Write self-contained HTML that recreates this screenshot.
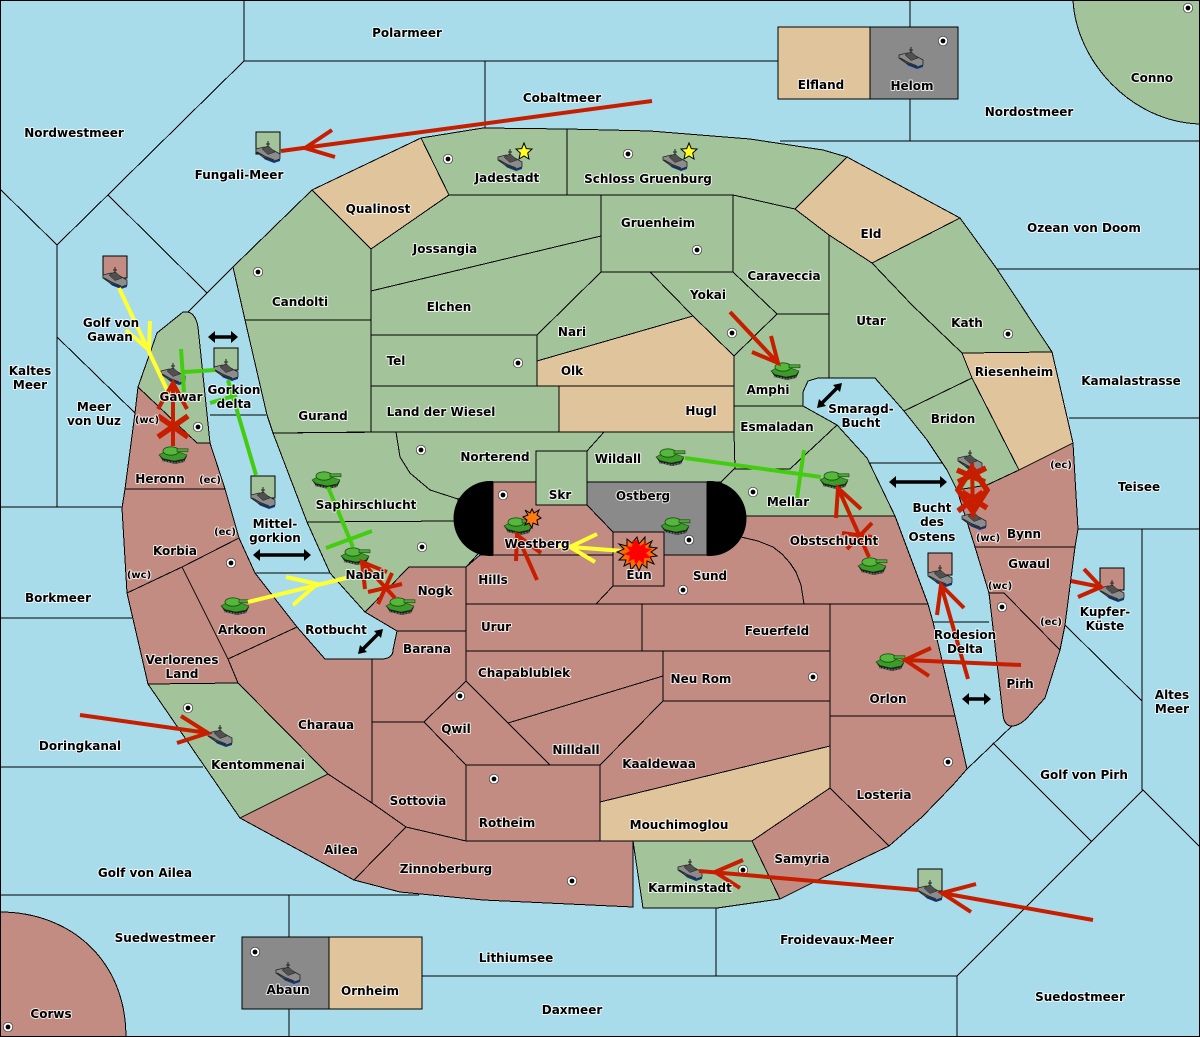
<!DOCTYPE html>
<html><head><meta charset="utf-8"><style>
html,body{margin:0;padding:0;background:#a8dcea}
svg{display:block}
.r polygon,.r path{stroke:#000;stroke-width:1;shape-rendering:crispEdges;stroke-linejoin:miter}
.g{fill:#a3c49a}.n{fill:#e0c49c}.b{fill:#c28c82}.k{fill:#8a8a8a}
.l path{fill:none;stroke:#000;stroke-width:1;shape-rendering:crispEdges}
text{font-family:"DejaVu Sans","Liberation Sans",sans-serif;font-size:12px;font-weight:bold;text-anchor:middle;fill:#000;stroke:#fff;stroke-opacity:.8;stroke-width:2;paint-order:stroke;stroke-linejoin:round}
text.s{font-size:10px}
.o{fill:none;stroke-width:4;stroke-linecap:butt;stroke-linejoin:miter}
.red{stroke:#c81e00}.yel{stroke:#ffff33}.grn{stroke:#44cc11}
.ar{fill:none;stroke:#000;stroke-width:3.4}
</style></head><body>
<svg xmlns="http://www.w3.org/2000/svg" width="1200" height="1037" viewBox="0 0 1200 1037">
<defs>
<g id="t">
<polygon points="0,9 4,15 16,18 25,16 28,10 14,6" fill="#1c1c1c"/>
<polygon points="0,9 8,4.5 18,5.5 28,9 25,13 15,15 4,12.5" fill="#3c9c2a" stroke="#16400e" stroke-width=".6"/>
<path d="M3,14.5 L16,17 L25,15" fill="none" stroke="#666" stroke-width="1.5" stroke-dasharray="2 1"/>
<ellipse cx="12" cy="5" rx="8" ry="4.2" fill="#55b83c" stroke="#1a4d12" stroke-width=".8"/>
<rect x="18" y="2.8" width="11" height="3" fill="#4aa834" stroke="#16400e" stroke-width=".6"/>
</g>
<g id="s">
<path d="M0,10 L9,18.5 L18,22 L24,20 L24,16 Z" fill="#0b3a8c"/>
<polygon points="0,8 8,6 14,7.5 24,13 24,18 18,20 7,16 0,11" fill="#8c8c8c" stroke="#222" stroke-width=".8"/>
<polygon points="6,8 12,4.5 19,11 12,13.5" fill="#505050" stroke="#222" stroke-width=".5"/>
<path d="M12,0 V6 M10,3 H14" stroke="#222" stroke-width="1" fill="none"/>
<path d="M1,11 L9,15.5 L18,19" stroke="#2a2a2a" stroke-width="1.2" fill="none"/>
</g>
<g id="d"><circle r="4.7" fill="#fff" stroke="#333" stroke-width=".7"/><circle r="2.4" fill="#000"/></g>
</defs>
<rect x="0" y="0" width="1200" height="1037" fill="#a8dcea"/>

<g class="l">
<path d="M244,0V61L57,245L0,189M244,61H778M485,61V128M910,0V27M910,99V141M780,141H1200"/>
<path d="M108,195L207,293M188,312L233,267M57,245V507M57,337L135,413M0,507H122M0,618H132M0,767H203"/>
<path d="M210,415H266M255,573H330M0,895H419M289,895V937M289,1009V1037M422,976H957M716,908V976M957,1037V976L1143,790L1200,847"/>
<path d="M993,743L1092,842M967,769L1012,726M997,269H1200M1069,418H1200M1078,529H1200M1142,529V790M1065,625L1142,701"/>
<path d="M868,463H947M933,622H989"/>
</g>

<g class="r">
<path class="g" d="M1073,0 C1076,60 1130,122 1200,124 V0 Z"/>
<path class="b" d="M0,912 C70,912 126,960 126,1037 H0 Z"/>
<polygon class="n" points="778,27 870,27 870,99 778,99"/>
<polygon class="k" points="870,27 958,27 958,99 870,99"/>
<polygon class="k" points="242,937 329,937 329,1009 242,1009"/>
<polygon class="n" points="329,937 422,937 422,1009 329,1009"/>

<polygon class="n" points="312,190 421,138 449,195 371,249"/>
<polygon class="g" points="421,138 483,128 567,129 567,195 449,195"/>
<polygon class="g" points="567,129 650,131 750,139 823,150 847,157 795,209 733,195 567,195"/>
<polygon class="g" points="601,195 733,195 733,272 601,272"/>
<polygon class="g" points="371,249 449,195 601,195 601,236 371,291"/>
<polygon class="g" points="371,291 601,236 601,272 537,335 371,335"/>
<polygon class="g" points="601,272 650,272 693,316 537,361 537,335"/>
<polygon class="n" points="537,361 693,316 734,356 734,386 537,386"/>
<polygon class="n" points="559,386 734,386 734,432 559,432"/>
<polygon class="g" points="371,335 537,335 537,386 371,386"/>
<polygon class="g" points="371,386 559,386 559,432 371,432"/>
<polygon class="g" points="650,272 733,272 777,314 734,356 693,316"/>
<polygon class="g" points="733,195 795,209 829,235 829,314 777,314 733,272"/>
<polygon class="g" points="777,314 829,314 829,378 818,378 808,381 803,392 803,406 734,406 734,356"/>
<polygon class="g" points="734,406 803,406 837,425 790,469 734,469"/>
<polygon class="g" points="829,235 872,263 912,305 962,353 972,378 904,411 875,378 829,378"/>
<polygon class="n" points="795,209 847,157 960,218 872,263 829,235"/>
<polygon class="g" points="872,263 960,218 997,269 1052,352 962,353 912,305"/>
<polygon class="n" points="962,353 1052,352 1073,443 1019,470 972,378"/>
<polygon class="g" points="904,411 972,378 1019,470 987,485 957,490 947,470 927,440"/>
<polygon class="b" points="1073,443 1078,529 1075,547 975,547 957,490 987,485 1019,470"/>
<polygon class="b" points="975,547 1075,547 1065,625 1060,650 1004,593 989,593"/>
<path class="b" d="M989,593H1004L1060,650L1045,698L1027,718Q1018,727 1010,726Q1004,724 1003,715Z"/>

<polygon class="g" points="233,267 312,190 371,249 371,320 245,320"/>
<polygon class="g" points="245,320 371,320 371,432 273,433 267,415"/>
<polygon class="g" points="396,432 604,432 587,451 536,451 536,482 493,482 458,499 430,490 410,473 400,457"/>
<polygon class="g" points="273,433 396,432 400,457 410,473 430,490 458,499 460,521 307,522"/>
<polygon class="g" points="307,522 460,521 478,554 466,567 409,567 365,612 330,573"/>
<polygon class="b" points="409,567 466,567 466,631 397,631 365,612"/>
<path class="b" d="M397,631H466V681L424,722H372V659H383Q393,658 393,650Z"/>
<polygon class="b" points="466,567 480,555 613,555 613,586 596,604 466,604"/>
<polygon class="b" points="466,604 642,604 642,651 466,651"/>
<polygon class="b" points="642,604 830,604 830,651 642,651"/>
<polygon class="b" points="466,651 663,651 663,676 508,723 466,681"/>
<polygon class="b" points="663,651 830,651 830,701 663,701"/>
<polygon class="b" points="508,723 663,676 663,701 600,765 550,765"/>
<polygon class="b" points="663,701 830,701 830,746 600,802 600,765"/>
<polygon class="n" points="600,802 830,746 830,788 752,841 600,841"/>
<polygon class="b" points="830,788 889,846 822,878 780,899 752,841"/>
<polygon class="b" points="830,716 955,716 967,769 953,785 922,817 889,846 830,788"/>
<polygon class="b" points="830,604 928,604 933,622 955,716 830,716"/>
<polygon class="b" points="735,516 895,516 928,604 804,604 801,585 796,572 790,563 782,554 773,547 758,541 741,537"/>
<polygon class="b" points="613,586 664,586 664,555 712,555 741,537 758,541 773,547 782,554 790,563 796,572 801,585 804,604 596,604"/>
<polygon class="g" points="587,451 604,432 734,432 735,469 721,482 587,482"/>
<polygon class="g" points="721,482 734,469 790,469 837,425 867,458 895,516 735,516"/>
<polygon class="k" points="587,482 707,482 707,555 664,555 664,532 613,532 587,505"/>
<polygon class="b" points="493,482 536,482 536,505 587,505 613,532 613,555 493,555"/>
<polygon class="b" points="613,532 664,532 664,586 613,586"/>
<polygon class="g" points="536,451 587,451 587,505 536,505"/>

<path class="g" d="M138,387L157,333L183,312Q195,310 198,327L210,443H197Z"/>
<polygon class="b" points="138,387 197,443 210,443 225,489 125,489 135,413"/>
<polygon class="b" points="125,489 225,489 239,538 182,567 127,593 122,508"/>
<polygon class="b" points="182,567 239,538 255,573 297,627 228,659"/>
<polygon class="b" points="127,593 182,567 228,659 238,683 148,684"/>
<polygon class="b" points="228,659 297,627 325,659 372,659 372,803 328,774 238,683"/>
<polygon class="g" points="148,684 238,683 328,774 240,818"/>
<polygon class="b" points="372,722 424,722 466,765 466,841 406,827 372,803"/>
<polygon class="b" points="424,722 466,681 550,765 466,765"/>
<polygon class="b" points="466,765 600,765 600,841 466,841"/>
<polygon class="b" points="240,818 328,774 372,803 406,827 354,880"/>
<polygon class="b" points="406,827 466,841 633,841 633,907 483,900 400,892 354,880"/>
<polygon class="g" points="633,841 752,841 780,899 717,908 643,908"/>

<polygon class="g" points="256,132 280,132 280,154 256,154"/>
<polygon class="b" points="103,256 127,256 127,278 103,278"/>
<polygon class="g" points="214,348 238,348 238,370 214,370"/>
<polygon class="g" points="251,476 275,476 275,498 251,498"/>
<polygon class="g" points="918,869 942,869 942,891 918,891"/>
<polygon class="b" points="928,553 952,553 952,575 928,575"/>
<polygon class="b" points="1100,568 1124,568 1124,590 1100,590"/>
</g>

<path d="M493,481H490A36,37 0 0 0 490,556H493Z" fill="#000"/>
<path d="M707,481H710A36,37 0 0 1 710,556H707Z" fill="#000"/>

<g fill="#ffff22" stroke="#000" stroke-width="1">
<polygon points="524,143 526.3,148.6 532,149 527.7,153 529,159 524,156 519,159 520.3,153 516,149 521.7,148.6"/>
<polygon points="689,143 691.3,148.6 697,149 692.7,153 694,159 689,156 684,159 685.3,153 681,149 686.7,148.6"/>
</g>

<g>
<use href="#d" x="258" y="272"/><use href="#d" x="198" y="427"/><use href="#d" x="448" y="159"/><use href="#d" x="628" y="154"/><use href="#d" x="697" y="250"/><use href="#d" x="732" y="333"/><use href="#d" x="518" y="363"/><use href="#d" x="421" y="450"/><use href="#d" x="1008" y="334"/><use href="#d" x="753" y="492"/><use href="#d" x="231" y="563"/><use href="#d" x="188" y="708"/><use href="#d" x="422" y="547"/><use href="#d" x="503" y="495"/><use href="#d" x="460" y="696"/><use href="#d" x="689" y="540"/><use href="#d" x="683" y="590"/><use href="#d" x="813" y="677"/><use href="#d" x="1002" y="607"/><use href="#d" x="948" y="762"/><use href="#d" x="494" y="779"/><use href="#d" x="572" y="881"/><use href="#d" x="255" y="952"/><use href="#d" x="743" y="870"/><use href="#d" x="943" y="41"/><use href="#d" x="8" y="1027"/><use href="#d" x="1188" y="8"/>
</g>

<g>
<use href="#s" x="256" y="141"/><use href="#s" x="103" y="267"/><use href="#s" x="161" y="363"/><use href="#s" x="214" y="359"/><use href="#s" x="251" y="487"/><use href="#s" x="498" y="149"/><use href="#s" x="663" y="149"/><use href="#s" x="899" y="47"/><use href="#s" x="276" y="962"/><use href="#s" x="208" y="725"/><use href="#s" x="678" y="859"/><use href="#s" x="918" y="880"/><use href="#s" x="958" y="450"/><use href="#s" x="962" y="508"/><use href="#s" x="1100" y="580"/><use href="#s" x="928" y="565"/>
<use href="#t" x="771" y="362"/><use href="#t" x="656" y="448"/><use href="#t" x="820" y="471"/><use href="#t" x="858" y="557"/><use href="#t" x="876" y="653"/><use href="#t" x="159" y="446"/><use href="#t" x="312" y="471"/><use href="#t" x="341" y="547"/><use href="#t" x="386" y="597"/><use href="#t" x="221" y="597"/><use href="#t" x="504" y="517"/><use href="#t" x="661" y="517"/><use href="#t" x="622" y="543"/>
</g>

<g class="o grn">
<path d="M685,458L821,477M804,450L797,498"/>
<path d="M328,487L353,547M372,531L326,548"/>
<path d="M181,349L184,392M184,372L215,370"/>
<path d="M256,475L228,380M210,403L237,395"/>
</g>
<g class="o yel">
<path d="M119,288L168,392M150,321L149,350L126,330"/>
<path d="M248,602L346,578M286,577L317,584L293,605"/>
<path d="M623,551L558,546M597,534L570,547L595,562"/>
</g>
<g class="o red">
<path d="M652,101L281,151M332,130L305,148L335,157"/>
<path d="M730,312L778,363M771,336L778,363L752,352"/>
<path d="M80,715L208,733M181,716L208,733L177,743"/>
<path d="M918,890L699,871M743,860L715,872L740,888"/>
<path d="M1093,920L942,893M976,884L942,893L971,912"/>
<path d="M1071,581L1101,587M1084,569L1101,587L1078,597"/>
<path d="M1021,665L905,660M931,648L905,660L929,676"/>
<path d="M968,679L941,585M937,615L941,585L964,608"/>
<path d="M869,557L838,488M836,518L838,488L861,509M872,523L847,549M842,533L872,537"/>
<path d="M173,446V383M158,409L173,383L187,409"/>
<path d="M395,598L362,562M365,589L362,562L387,572M392,573L378,604M368,592L402,584"/>
<path d="M537,580L517,535M516,561L517,535L541,553"/>
<path d="M973,518L972,463"/>
</g>
<g class="o red" style="stroke-width:5.5">
<path d="M158,416L188,437M188,416L158,437"/>
<path d="M972,468L958,490L973,512L987,490Z"/>
<path d="M957,470L985,482M986,468L958,482M962,492L987,508M983,492L958,511"/>
</g>

<g>
<polygon points="637,537 639,544 645,537 645,545 652,541 649,547 657,548 651,552 657,556 650,557 654,564 647,561 647,568 642,564 639,571 636,564 631,570 630,563 624,566 626,560 619,560 624,555 617,552 624,549 619,544 627,546 627,539 632,543" fill="#ff6a00" stroke="#000" stroke-width="1"/>
<polygon points="637,540 640,546 646,542 645,548 652,549 646,553 651,558 644,558 644,564 639,560 636,565 634,559 628,562 630,556 624,554 630,551 626,546 632,547 633,541" fill="#ff0000"/>
<polygon points="532,509 534,513 539,510 537,515 541,518 537,520 538,525 533,523 532,528 529,523 525,525 527,520 523,517 528,515 525,510 530,513" fill="#ff7a10" stroke="#000" stroke-width="1"/>
</g>

<g fill="#000">
<path class="ar" d="M214,337H232"/><polygon points="208,337 215,331 215,343"/><polygon points="238,337 231,331 231,343"/>
<path class="ar" d="M259,555H305"/><polygon points="253,555 260,549 260,561"/><polygon points="311,555 304,549 304,561"/>
<path class="ar" d="M895,482H941"/><polygon points="889,482 896,476 896,488"/><polygon points="947,482 940,476 940,488"/>
<path class="ar" d="M968,699H985"/><polygon points="962,699 969,693 969,705"/><polygon points="991,699 984,693 984,705"/>
<path class="ar" d="M362,650L379,633"/><polygon points="358,654 360,645 367,652"/><polygon points="383,629 381,638 374,631"/>
<path class="ar" d="M821,404L838,387"/><polygon points="817,408 819,399 826,406"/><polygon points="842,383 840,392 833,385"/>
</g>

<g>
<text x="407" y="37">Polarmeer</text><text x="562" y="102">Cobaltmeer</text><text x="74" y="137">Nordwestmeer</text><text x="239" y="179">Fungali-Meer</text><text x="821" y="89">Elfland</text><text x="912" y="90">Helom</text><text x="1029" y="116">Nordostmeer</text><text x="1152" y="82">Conno</text><text x="378" y="213">Qualinost</text><text x="507" y="182">Jadestadt</text><text x="648" y="183">Schloss Gruenburg</text><text x="658" y="227">Gruenheim</text><text x="445" y="253">Jossangia</text><text x="1084" y="232">Ozean von Doom</text><text x="871" y="238">Eld</text><text x="784" y="280">Caraveccia</text><text x="708" y="299">Yokai</text><text x="300" y="306">Candolti</text><text x="449" y="311">Elchen</text><text x="871" y="325">Utar</text><text x="967" y="327">Kath</text><text x="572" y="336">Nari</text>
<text x="111" y="327">Golf von</text><text x="110" y="341">Gawan</text><text x="396" y="365">Tel</text><text x="572" y="375">Olk</text><text x="1014" y="376">Riesenheim</text><text x="30" y="375">Kaltes</text><text x="30" y="389">Meer</text><text x="1131" y="385">Kamalastrasse</text><text x="768" y="394">Amphi</text><text x="861" y="413">Smaragd-</text><text x="861" y="427">Bucht</text><text x="181" y="401">Gawar</text><text x="234" y="394">Gorkion</text><text x="234" y="408">delta</text><text x="94" y="411">Meer</text><text x="94" y="425">von Uuz</text><text x="441" y="416">Land der Wiesel</text><text x="701" y="415">Hugl</text><text x="323" y="420">Gurand</text><text x="953" y="423">Bridon</text><text x="777" y="431">Esmaladan</text><text x="495" y="461">Norterend</text><text x="618" y="463">Wildall</text><text x="160" y="483">Heronn</text><text x="1139" y="491">Teisee</text><text x="560" y="499">Skr</text><text x="643" y="500">Ostberg</text><text x="788" y="506">Mellar</text><text x="366" y="509">Saphirschlucht</text><text x="932" y="512">Bucht</text><text x="932" y="526">des</text><text x="932" y="541">Ostens</text><text x="275" y="528">Mittel-</text><text x="275" y="542">gorkion</text><text x="1024" y="538">Bynn</text><text x="834" y="545">Obstschlucht</text><text x="537" y="548">Westberg</text><text x="175" y="555">Korbia</text><text x="1029" y="568">Gwaul</text><text x="365" y="579">Nabai</text><text x="639" y="579">Eun</text><text x="710" y="580">Sund</text><text x="493" y="584">Hills</text><text x="435" y="595">Nogk</text><text x="58" y="602">Borkmeer</text><text x="242" y="634">Arkoon</text><text x="336" y="634">Rotbucht</text><text x="1105" y="616">Kupfer-</text><text x="1105" y="630">Küste</text><text x="496" y="631">Urur</text><text x="777" y="635">Feuerfeld</text><text x="965" y="639">Rodesion</text><text x="965" y="653">Delta</text><text x="427" y="653">Barana</text><text x="182" y="664">Verlorenes</text><text x="182" y="678">Land</text><text x="524" y="677">Chapablublek</text><text x="701" y="683">Neu Rom</text><text x="1020" y="688">Pirh</text><text x="1172" y="699">Altes</text><text x="1172" y="713">Meer</text><text x="888" y="703">Orlon</text><text x="326" y="729">Charaua</text><text x="456" y="733">Qwil</text><text x="80" y="750">Doringkanal</text><text x="576" y="754">Nilldall</text><text x="659" y="768">Kaaldewaa</text><text x="258" y="769">Kentommenai</text><text x="1084" y="779">Golf von Pirh</text><text x="884" y="799">Losteria</text><text x="418" y="805">Sottovia</text><text x="507" y="827">Rotheim</text><text x="679" y="829">Mouchimoglou</text><text x="341" y="854">Ailea</text><text x="802" y="863">Samyria</text><text x="446" y="873">Zinnoberburg</text><text x="145" y="877">Golf von Ailea</text><text x="690" y="892">Karminstadt</text><text x="165" y="942">Suedwestmeer</text><text x="837" y="944">Froidevaux-Meer</text><text x="516" y="962">Lithiumsee</text><text x="288" y="994">Abaun</text><text x="370" y="995">Ornheim</text><text x="1080" y="1001">Suedostmeer</text><text x="572" y="1014">Daxmeer</text><text x="51" y="1018">Corws</text>
<text class="s" x="147" y="423">(wc)</text><text class="s" x="210" y="483">(ec)</text><text class="s" x="1061" y="468">(ec)</text><text class="s" x="225" y="535">(ec)</text><text class="s" x="988" y="541">(wc)</text><text class="s" x="139" y="578">(wc)</text><text class="s" x="1000" y="589">(wc)</text><text class="s" x="1051" y="625">(ec)</text>
</g>

<rect x="0.5" y="0.5" width="1199" height="1036" fill="none" stroke="#000" stroke-width="1" shape-rendering="crispEdges"/>
</svg>
</body></html>
